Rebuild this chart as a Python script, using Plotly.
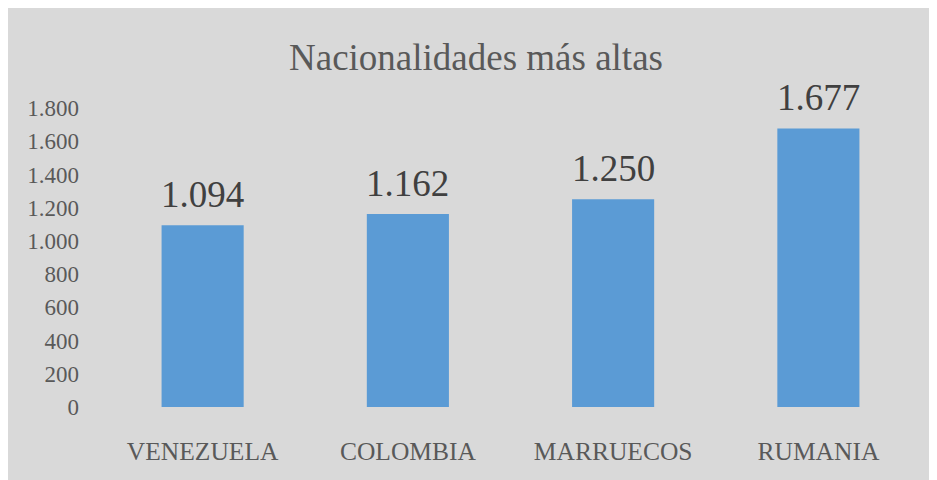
import plotly.graph_objects as go

categories = ["VENEZUELA", "COLOMBIA", "MARRUECOS", "RUMANIA"]
values = [1094, 1162, 1250, 1677]
tick_vals = [0, 200, 400, 600, 800, 1000, 1200, 1400, 1600, 1800]
tick_text = ["0", "200", "400", "600", "800", "1.000", "1.200", "1.400", "1.600", "1.800"]
value_labels = ["1.094", "1.162", "1.250", "1.677"]
title = "Nacionalidades más altas"

FONT = "Liberation Serif, Times New Roman, serif"

fig = go.Figure(go.Bar(
    x=categories, y=values,
    marker=dict(color="#5b9bd5", line=dict(width=0)),
    hoverinfo="x+y",
))

for c, v, lab in zip(categories, values, value_labels):
    fig.add_annotation(x=c, y=v, text=lab, showarrow=False, yanchor="bottom", yshift=8,
                       font=dict(family=FONT, size=37, color="#404040"))

fig.update_layout(
    width=937, height=480,
    paper_bgcolor="#d9d9d9", plot_bgcolor="#d9d9d9",
    margin=dict(l=92, r=24, t=100, b=81),
    bargap=0.6,
    showlegend=False,
    title=dict(text=title, x=468 / 937, xanchor="center", y=1 - 49 / 480, yanchor="middle",
               font=dict(family=FONT, size=37, color="#595959")),
    xaxis=dict(showgrid=False, showline=False, zeroline=False, ticks="",
               tickfont=dict(family=FONT, size=25.5, color="#595959"),
               ticklabelstandoff=26),
    yaxis=dict(range=[0, 1800], tickvals=tick_vals, ticktext=tick_text,
               showgrid=False, showline=False, zeroline=False, ticks="",
               tickfont=dict(family=FONT, size=23, color="#595959"),
               ticklabelstandoff=20),
)

fig.write_html("out.html")
